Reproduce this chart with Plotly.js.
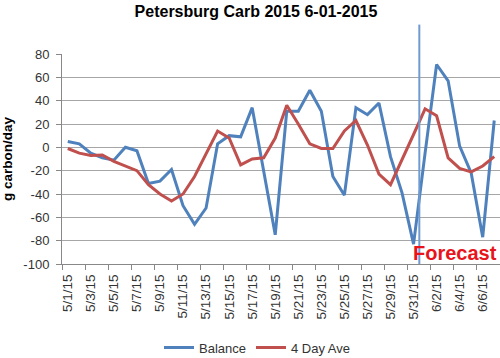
<!DOCTYPE html>
<html>
<head>
<meta charset="utf-8">
<script src="https://cdn.plot.ly/plotly-3.0.1.min.js"></script>
<style>html,body{margin:0;padding:0;background:#fff;}#chart{width:500px;height:358px;}</style>
</head>
<body>
<div id="chart"></div>
<script>
var dates = ["5/1/15","5/2/15","5/3/15","5/4/15","5/5/15","5/6/15","5/7/15","5/8/15","5/9/15","5/10/15",
  "5/11/15","5/12/15","5/13/15","5/14/15","5/15/15","5/16/15","5/17/15","5/18/15","5/19/15","5/20/15",
  "5/21/15","5/22/15","5/23/15","5/24/15","5/25/15","5/26/15","5/27/15","5/28/15","5/29/15","5/30/15",
  "5/31/15","6/1/15","6/2/15","6/3/15","6/4/15","6/5/15","6/6/15","6/7/15"];
var balance = [5,3,-5,-9,-11,0,-3,-31,-29,-19,
  -50,-66,-52,3,10,9,34,-22,-75,31,
  31,49,31,-25,-41,34,28,38,-8,-39,
  -83,-5,71,57,1,-22,-77,23];
var dayAve = [-1,-5,-7,-6.5,-12,-16,-20,-32,-40,-46,
  -40,-25,-6,14,8,-15,-10,-9,8,36,
  20,3,-1,-1,14,23,2,-23,-32,-11,
  11,33,27,-9,-18,-21,-16,-8];
var yTicks = [80,60,40,20,0,-20,-40,-60,-80,-100];
var forecastStart = 30.5;

var font = "Liberation Sans, Arial, sans-serif";
var traces = [
  {x: dates, y: balance, name: "Balance", type: "scatter", mode: "lines",
   line: {color: "#4F81BD", width: 3}},
  {x: dates, y: dayAve, name: "4 Day Ave", type: "scatter", mode: "lines",
   line: {color: "#C0504D", width: 3}}
];
var layout = {
  width: 500, height: 358,
  margin: {l: 62, r: 0, t: 54, b: 94},
  paper_bgcolor: "#fff", plot_bgcolor: "#fff",
  font: {family: font, size: 13, color: "#333"},
  title: {text: "Petersburg Carb 2015 6-01-2015", font: {family: font, size: 16, color: "#000", weight: "bold"},
          x: 0.512, xref: "container", xanchor: "center", y: 0.968, yref: "container", yanchor: "middle"},
  xaxis: {type: "category", categoryorder: "array", categoryarray: dates,
          range: [-0.5, dates.length - 0.5], dtick: 2, tickangle: -90, tickson: "boundaries",
          ticks: "outside", ticklen: 5, tickcolor: "#888", showgrid: false, ticklabelstandoff: 4,
          showline: true, linecolor: "#888", linewidth: 1, tickfont: {size: 13.5, color: "#333"},
          fixedrange: true},
  yaxis: {range: [-100, 80], tickvals: yTicks, ticktext: yTicks.map(String),
          ticks: "outside", ticklen: 5, tickcolor: "#888", ticklabelstandoff: 4,
          showgrid: true, gridcolor: "#a6a6a6", gridwidth: 1, zeroline: false,
          showline: true, linecolor: "#888", linewidth: 1,
          tickfont: {size: 13, color: "#333"},
          title: {text: "g carbon/day", font: {size: 13.5, color: "#000", weight: "bold"}, standoff: 10}},
  showlegend: true,
  legend: {orientation: "h", x: 0.515, xref: "container", xanchor: "center",
           y: 0.029, yref: "container", yanchor: "middle", font: {size: 13, color: "#333"},
           itemwidth: 30, tracegroupgap: 0},
  shapes: [{type: "line", xref: "x", yref: "paper", x0: forecastStart, x1: forecastStart, y0: 0, y1: 1.14,
            line: {color: "#6f9bd0", width: 2}}],
  annotations: [{text: "Forecast", xref: "paper", yref: "paper", x: 0.998, y: -0.01,
                 xanchor: "right", yanchor: "bottom", showarrow: false,
                 font: {family: font, size: 20, color: "#e8141b", weight: "bold"}}]
};
Plotly.newPlot("chart", traces, layout, {displayModeBar: false, staticPlot: true});
</script>
</body>
</html>
